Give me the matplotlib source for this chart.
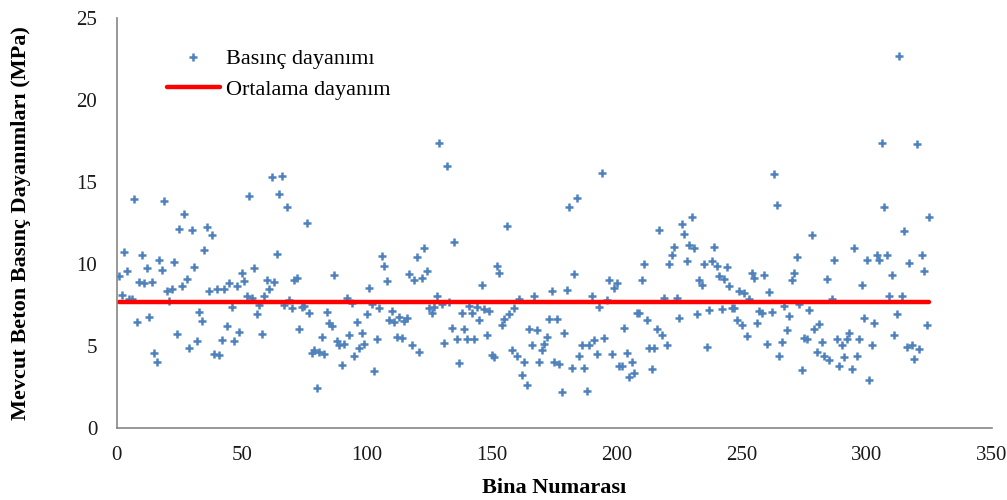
import numpy as np
import matplotlib
matplotlib.use("Agg")
import matplotlib.pyplot as plt

# Basınç dayanımı (MPa), bina sırasına göre
dayanim = [
    9.25, 8.13, 10.71, 9.57, 7.85, 7.89, 13.97, 6.45, 8.90, 10.54,
    8.84, 9.75, 6.77, 8.90, 4.58, 4.03, 10.22, 9.63, 13.87, 8.35,
    7.77, 8.47, 10.12, 5.72, 12.15, 8.66, 13.02, 9.08, 4.89, 12.09,
    9.81, 5.31, 7.08, 6.55, 10.87, 12.25, 8.35, 11.76, 4.54, 8.49,
    4.46, 5.35, 8.45, 6.20, 8.82, 7.36, 5.33, 8.66, 5.84, 9.43,
    8.96, 8.05, 14.15, 7.95, 9.75, 6.97, 7.48, 5.76, 8.03, 9.04,
    8.49, 15.29, 8.92, 10.62, 14.29, 15.39, 7.52, 13.46, 7.79, 7.34,
    9.00, 9.17, 6.06, 7.38, 7.44, 12.51, 7.04, 4.60, 4.74, 2.41,
    4.62, 5.56, 4.54, 7.06, 6.41, 6.22, 9.35, 5.31, 5.05, 3.87,
    5.15, 7.93, 5.70, 7.65, 4.40, 6.47, 4.87, 5.82, 5.15, 6.97,
    8.56, 7.58, 3.47, 5.45, 7.34, 10.46, 9.87, 8.96, 6.61, 7.14,
    6.47, 5.56, 6.79, 5.50, 6.53, 6.71, 9.41, 5.05, 9.00, 10.40,
    4.66, 9.12, 10.97, 9.57, 7.32, 7.04, 7.38, 8.03, 17.35, 7.54,
    5.21, 16.00, 7.68, 6.10, 11.33, 5.41, 3.97, 7.04, 6.06, 5.41,
    7.44, 7.04, 5.41, 7.38, 6.61, 8.70, 7.28, 5.66, 7.12, 4.48,
    4.30, 9.85, 9.47, 6.31, 6.67, 12.31, 6.93, 4.74, 7.32, 4.38,
    7.85, 3.22, 4.03, 2.62, 6.06, 5.05, 8.03, 5.96, 4.03, 4.74,
    5.15, 5.56, 6.63, 8.33, 4.03, 6.67, 3.93, 2.21, 5.82, 8.39,
    13.50, 3.67, 9.41, 14.01, 4.38, 5.09, 3.67, 2.25, 5.09, 8.03,
    5.35, 4.52, 7.36, 15.53, 5.47, 7.81, 9.02, 4.52, 8.56, 8.84,
    3.77, 3.77, 6.12, 4.56, 3.12, 4.03, 3.33, 7.04, 7.04, 9.02,
    10.02, 6.61, 4.89, 3.59, 4.89, 6.06, 12.07, 5.68, 7.91, 5.07,
    10.02, 10.52, 11.01, 7.91, 6.71, 12.45, 11.82, 10.18, 11.13, 12.88,
    10.99, 6.95, 9.04, 8.70, 10.02, 4.93, 7.20, 10.16, 11.01, 9.87,
    9.29, 7.26, 9.06, 9.79, 8.64, 7.32, 7.32, 6.57, 8.33, 6.27,
    8.23, 5.60, 7.89, 9.47, 9.12, 6.39, 7.16, 7.04, 9.31, 5.13,
    8.27, 7.06, 15.49, 13.61, 4.40, 5.27, 7.42, 5.98, 6.83, 9.02,
    9.47, 10.40, 7.54, 3.55, 5.50, 5.41, 7.22, 11.74, 6.04, 4.66,
    6.35, 5.25, 4.42, 9.08, 4.15, 7.87, 10.26, 5.43, 3.77, 5.05,
    4.30, 5.43, 5.78, 3.57, 10.97, 4.42, 5.43, 8.70, 6.71, 10.24,
    2.92, 5.05, 6.43, 10.54, 10.24, 17.35, 13.50, 10.54, 8.05, 9.31,
    5.70, 6.97, 22.69, 8.07, 12.00, 4.91, 10.04, 5.05, 4.20, 17.29,
    4.81, 10.52, 9.57, 6.31, 12.86,
]
ortalama = 7.68

x_ticks = [0, 50, 100, 150, 200, 250, 300, 350]
y_ticks = [0, 5, 10, 15, 20, 25]

bina = np.arange(1, len(dayanim) + 1)

plt.rcParams["font.family"] = ["Liberation Serif", "DejaVu Serif"]

fig = plt.figure(figsize=(10.07, 5.0), dpi=100)
ax = fig.add_axes([0.116, 0.144, 0.869, 0.820])

ax.plot(bina, dayanim, linestyle="none", marker="+", color="#4F81BD",
        markersize=5.5, markeredgewidth=1.8, label="Basınç dayanımı")
ax.plot([bina[0], bina[-1]], [ortalama, ortalama], color="#FF0000",
        linewidth=3.2, solid_capstyle="round", label="Ortalama dayanım")

ax.set_xlim(0, 350)
ax.set_ylim(0, 25)
ax.set_xticks(x_ticks)
ax.set_yticks(y_ticks)
ax.tick_params(length=0, labelsize=15, colors="#1a1a1a")
ax.tick_params(axis="x", pad=13)
ax.tick_params(axis="y", pad=14)

for side in ("top", "right"):
    ax.spines[side].set_visible(False)
for side in ("left", "bottom"):
    ax.spines[side].set_color("#868686")
    ax.spines[side].set_linewidth(1.2)

ax.set_xlabel("Bina Numarası", fontsize=16, fontweight="bold")
ax.set_ylabel("Mevcut Beton Basınç Dayanımları (MPa)", fontsize=16,
              fontweight="bold")
ax.xaxis.set_label_coords(0.5, -0.122)
ax.yaxis.set_label_coords(-0.098, 0.5)

ax.legend(loc="upper left", bbox_to_anchor=(0.057, 0.925), frameon=False,
          borderaxespad=0, borderpad=0, fontsize=16, handlelength=2.4,
          handletextpad=0.25, labelspacing=0.45)

fig.savefig("out.png", dpi=100)
